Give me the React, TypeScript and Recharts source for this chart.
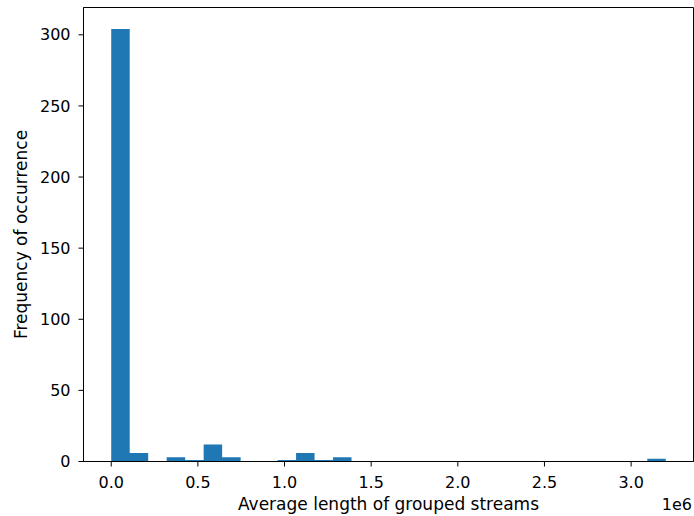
import {
    ComposedChart,
    Area,
    XAxis,
    YAxis,
    Label,
    ReferenceArea,
} from "recharts";

// histogram of stream lengths, x values in units of 1e6
const binEdges = [
    0, 0.1067, 0.2133, 0.32, 0.4267, 0.5333, 0.64, 0.7467, 0.8533, 0.96,
    1.0667, 1.1733, 1.28, 1.3867, 1.4933, 1.6, 1.7067, 1.8133, 1.92, 2.0267,
    2.1333, 2.24, 2.3467, 2.4533, 2.56, 2.6667, 2.7733, 2.88, 2.9867, 3.0933,
    3.2,
];
const counts = [
    304, 6, 0, 3, 1, 12, 3, 0, 0, 1,
    6, 1, 3, 0, 0, 0, 0, 0, 0, 0,
    0, 0, 0, 0, 0, 0, 0, 0, 0, 2,
];
const xTicks = [0, 0.5, 1, 1.5, 2, 2.5, 3];
const yTicks = [0, 50, 100, 150, 200, 250, 300];

const xDomain = [-0.16, 3.36];
const yMax = 319.2;

const FONT = "'DejaVu Sans', sans-serif";
const BLUE = "#1f77b4";
const TICK_SIZE = 16;
const LABEL_SIZE = 17;

// step area: one point per bin edge, last edge repeats the last count
const histData = binEdges.map((x, i) => ({
    x,
    count: counts[Math.min(i, counts.length - 1)],
}));

export default function App() {
    return (
        <div style={{ position: 'absolute', left: 0, top: 0, width: 694, height: 516, background: '#fff' }}>
            <ComposedChart
                width={694}
                height={516}
                data={histData}
                margin={{ top: 7.5, right: 0.5, left: 0, bottom: 0 }}
            >
                <XAxis
                    dataKey="x"
                    type="number"
                    domain={xDomain}
                    ticks={xTicks}
                    allowDataOverflow
                    height={54.5}
                    tickSize={5}
                    tickMargin={10}
                    stroke="#000"
                    tick={{ fill: '#000', fontSize: TICK_SIZE, fontFamily: FONT }}
                    tickFormatter={(v) => v.toFixed(1)}
                >
                    <Label
                        content={({ viewBox }: any) => (
                            <text
                                x={viewBox.x + viewBox.width / 2}
                                y={viewBox.y + 48}
                                textAnchor="middle"
                                fontSize={LABEL_SIZE}
                                fontFamily={FONT}
                                fill="#000"
                            >
                                Average length of grouped streams
                            </text>
                        )}
                    />
                    <Label
                        content={({ viewBox }: any) => (
                            <text
                                x={viewBox.x + viewBox.width - 1.5}
                                y={viewBox.y + 48}
                                textAnchor="end"
                                fontSize={TICK_SIZE}
                                fontFamily={FONT}
                                fill="#000"
                            >
                                1e6
                            </text>
                        )}
                    />
                </XAxis>
                <YAxis
                    type="number"
                    domain={[0, yMax]}
                    ticks={yTicks}
                    allowDataOverflow
                    width={83.5}
                    tickSize={5}
                    tickMargin={8}
                    stroke="#000"
                    tick={{ fill: '#000', fontSize: TICK_SIZE, fontFamily: FONT }}
                >
                    <Label
                        content={({ viewBox }: any) => {
                            const cx = viewBox.x + 21;
                            const cy = viewBox.y + viewBox.height / 2;
                            return (
                                <text
                                    x={cx}
                                    y={cy}
                                    transform={`rotate(-90 ${cx} ${cy})`}
                                    textAnchor="middle"
                                    dominantBaseline="central"
                                    fontSize={LABEL_SIZE}
                                    fontFamily={FONT}
                                    fill="#000"
                                >
                                    Frequency of occurrence
                                </text>
                            );
                        }}
                    />
                </YAxis>
                <Area
                    type="stepAfter"
                    dataKey="count"
                    stroke="none"
                    fill={BLUE}
                    fillOpacity={1}
                    isAnimationActive={false}
                />
                <ReferenceArea
                    x1={xDomain[0]}
                    x2={xDomain[1]}
                    y1={0}
                    y2={yMax}
                    fill="none"
                    stroke="#000"
                    strokeWidth={1}
                    ifOverflow="visible"
                />
            </ComposedChart>
        </div>
    );
}
